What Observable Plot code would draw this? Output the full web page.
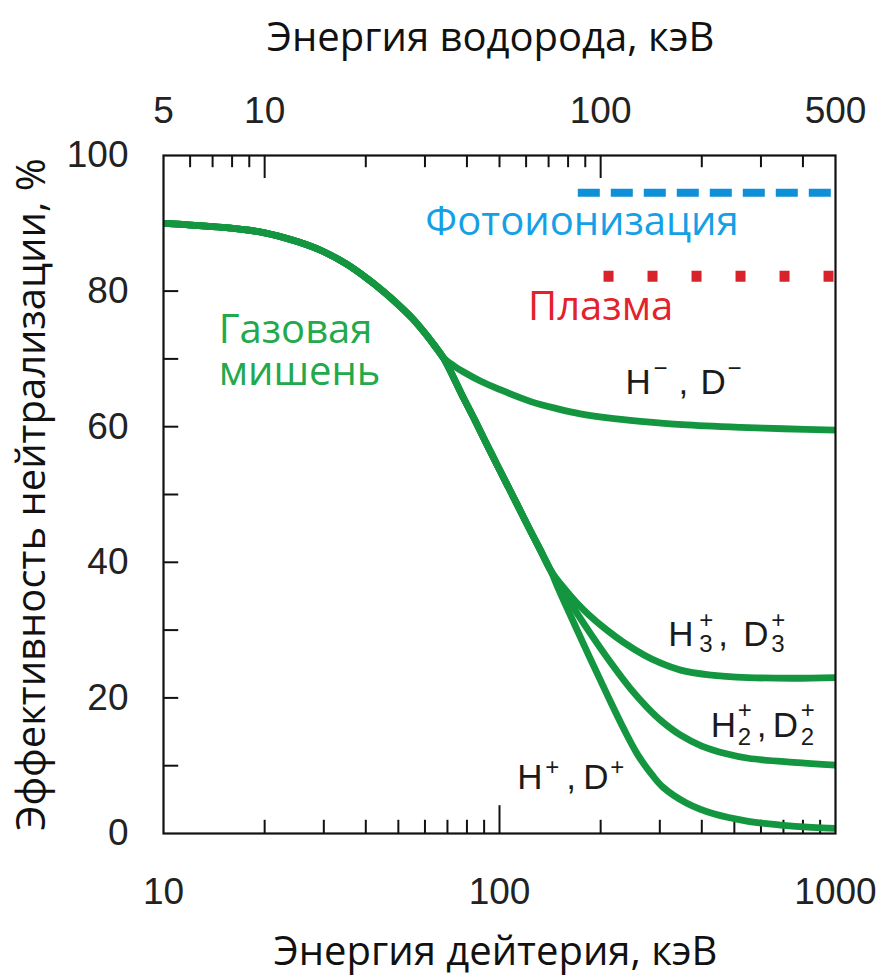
<!DOCTYPE html>
<html>
<head>
<meta charset="utf-8">
<script src="https://cdn.jsdelivr.net/npm/d3@7"></script>
<script src="https://cdn.jsdelivr.net/npm/@observablehq/plot@0.6"></script>
<style>
  html, body { margin: 0; padding: 0; background: #fff; }
</style>
</head>
<body>
<div id="chart"></div>
<script>
// Neutralisation efficiency in a gas target vs deuterium energy (keV).
// All ion species share the low-energy part of the curve, then branch off.
const commonEnergy = [10, 15, 20, 25, 30, 35, 40, 45, 50, 55, 60, 64, 68];
const commonEff    = [90.0, 89.4, 88.6, 87.3, 85.8, 84.0, 82.0, 80.0, 78.0, 76.0, 73.8, 72.0, 70.2];

// Negative ions (H-, D-)
const negEnergy = [73, 78, 88, 100, 124, 150, 174, 210, 263, 350, 522, 700, 1000];
const negEff    = [69.0, 68.1, 66.7, 65.5, 63.7, 62.6, 61.9, 61.3, 60.8, 60.3, 59.9, 59.7, 59.5];

// Positive ions share a steep section before splitting again
const posEnergy = [78, 84, 90, 99, 106, 114, 124, 132, 142];
const posEff    = [64.3, 61.2, 58.2, 54.1, 51.2, 48.1, 44.5, 41.9, 38.8];

// H3+, D3+
const tri3Energy = [155, 170, 185, 210, 234, 270, 300, 346, 420, 550, 750, 1000];
const tri3Eff    = [36.3, 34.0, 32.2, 29.9, 28.2, 26.3, 25.2, 24.1, 23.4, 23.0, 22.9, 23.0];

// H2+, D2+
const di2Energy = [155, 170, 187, 215, 245, 275, 300, 346, 400, 470, 550, 750, 1000];
const di2Eff    = [35.6, 32.5, 29.4, 25.1, 21.4, 18.6, 16.8, 14.5, 12.9, 11.8, 11.1, 10.5, 10.1];

// H+, D+
const monoEnergy = [150, 166, 187, 210, 234, 258, 285, 307, 360, 434, 550, 686, 850, 1000];
const monoEff    = [36.0, 31.2, 25.6, 20.3, 15.5, 11.6, 8.6, 6.8, 4.5, 2.9, 1.8, 1.25, 0.9, 0.75];

// Other neutraliser types: photoionisation and plasma targets
const photoEnergy = [171, 1000];
const photoEff = 94.5;
const plasmaEnergy = [204, 1000];
const plasmaEff = 82.2;

// Axis tick values
const deutTickLabels = [10, 100, 1000];
const hydrTickLabels = [5, 10, 100, 500];
const effTickLabels = [0, 20, 40, 60, 80, 100];
const deutMinor = [20, 30, 40, 50, 60, 70, 80, 90, 200, 300, 400, 500, 600, 700, 800, 900];
const deutMajor = [100];
const hydrMinor = [6, 7, 8, 9, 20, 30, 40, 50, 60, 70, 80, 90, 200, 300, 400];
const hydrMajor = [10, 100];
const effMinor = [10, 20, 30, 40, 50, 60, 70, 80, 90];

const zip = (es, vs) => es.map((e, i) => ({energy: e, eff: vs[i]}));
const branch = (name, parts) =>
  parts.flatMap(([es, vs]) => zip(es, vs)).map(d => ({...d, series: name}));

const curves = [
  ...branch("H-", [[commonEnergy, commonEff], [negEnergy, negEff]]),
  ...branch("H3+", [[commonEnergy, commonEff], [posEnergy, posEff], [tri3Energy, tri3Eff]]),
  ...branch("H2+", [[commonEnergy, commonEff], [posEnergy, posEff], [di2Energy, di2Eff]]),
  ...branch("H+", [[commonEnergy, commonEff], [posEnergy, posEff], [monoEnergy, monoEff]])
];

const sansTitle = "'Open Sans', 'Noto Sans', sans-serif";
const sansTick = "'Liberation Sans', Arial, sans-serif";
const green = "#13963f";
const labelGreen = "#22a94b";

// Ion label such as H₃⁺, D₃⁺ with stacked superscript/subscript
function ionLabel(energy, eff, sup, sub, o) {
  const base = {x: energy, y: eff, textAnchor: "start", fontFamily: sansTick, fontSize: 35, fill: "#1b1b1b"};
  const small = {...base, fontSize: 24};
  const marks = [
    Plot.text(["H"], base),
    Plot.text([sup], {...small, dx: o.s1, dy: o.up}),
    Plot.text([","], {...base, dx: o.comma}),
    Plot.text(["D"], {...base, dx: o.d}),
    Plot.text([sup], {...small, dx: o.s2, dy: o.up})
  ];
  if (sub) {
    marks.push(Plot.text([sub], {...small, dx: o.s1, dy: o.down}));
    marks.push(Plot.text([sub], {...small, dx: o.s2, dy: o.down}));
  }
  return marks;
}

const chart = Plot.plot({
  width: 889,
  height: 978,
  marginLeft: 163,
  marginRight: 54,
  marginTop: 155,
  marginBottom: 145,
  x: {type: "log", domain: [10, 1000]},
  y: {domain: [0, 100]},
  style: {background: "#fff", fontFamily: sansTick, color: "#222"},
  marks: [
    // inward tick marks
    Plot.ruleX(deutMinor, {y1: 0, y2: 1.95, stroke: "#111", strokeWidth: 2}),
    Plot.ruleX(deutMajor, {y1: 0, y2: 4.1, stroke: "#111", strokeWidth: 2}),
    Plot.ruleX(hydrMinor.map(h => h * 2), {y1: 100, y2: 98.2, stroke: "#111", strokeWidth: 2}),
    Plot.ruleX(hydrMajor.map(h => h * 2), {y1: 100, y2: 96.6, stroke: "#111", strokeWidth: 2}),
    Plot.ruleY(effMinor, {x1: 10, x2: 11.1, stroke: "#111", strokeWidth: 2}),

    // photoionisation and plasma levels
    Plot.line(photoEnergy.map(e => ({energy: e, eff: photoEff})),
      {x: "energy", y: "eff", stroke: "#0e8fd8", strokeWidth: 8, strokeDasharray: "22,11", strokeLinecap: "butt"}),
    Plot.line(plasmaEnergy.map(e => ({energy: e, eff: plasmaEff})),
      {x: "energy", y: "eff", stroke: "#d9232b", strokeWidth: 11, strokeDasharray: "10,34", strokeLinecap: "butt"}),

    // gas target curves
    Plot.line(curves, {x: "energy", y: "eff", z: "series", stroke: green, strokeWidth: 6.8,
      curve: "catmull-rom", strokeLinecap: "butt", strokeLinejoin: "round"}),

    Plot.frame({stroke: "#111", strokeWidth: 2.2}),

    // axes (labels only; ticks are drawn above)
    Plot.axisY({ticks: effTickLabels, tickSize: 0, tickPadding: 35, fontSize: 37, label: null,
      tickFormat: d => String(d), fill: "#222"}),
    Plot.axisX({anchor: "bottom", ticks: deutTickLabels, tickSize: 0, tickPadding: 44, fontSize: 37,
      label: null, tickFormat: d => String(d), fill: "#222"}),
    Plot.axisX({anchor: "top", ticks: hydrTickLabels.map(h => h * 2), tickSize: 0, tickPadding: 33,
      fontSize: 37, label: null, tickFormat: d => String(d / 2), fill: "#222"}),

    // axis titles
    Plot.text(["Энергия водорода, кэВ"], {frameAnchor: "top", dy: -133, dx: -9,
      fontFamily: sansTitle, fontSize: 40, fill: "#111"}),
    Plot.text(["Энергия дейтерия, кэВ"], {frameAnchor: "bottom", dy: 131, dx: -4,
      fontFamily: sansTitle, fontSize: 40, fill: "#111"}),
    Plot.text(["Эффективность нейтрализации, %"], {frameAnchor: "left", textAnchor: "middle",
      rotate: -90, dx: -131, fontFamily: sansTitle, fontSize: 40, fill: "#111"}),

    // annotations
    Plot.text(["Газовая"], {x: 14.6, y: 74.2, textAnchor: "start", fontFamily: sansTitle, fontSize: 40, fill: labelGreen}),
    Plot.text(["мишень"], {x: 14.6, y: 68.0, textAnchor: "start", fontFamily: sansTitle, fontSize: 40, fill: labelGreen}),
    Plot.text(["Фотоионизация"], {x: 176, y: 90.1, fontFamily: sansTitle, fontSize: 40, fill: "#15a0e6"}),
    Plot.text(["Плазма"], {x: 200, y: 77.6, fontFamily: sansTitle, fontSize: 40, fill: "#e4222b"}),

    ...ionLabel(237, 66.45, "−", null, {s1: 28, s2: 102, comma: 53, d: 75, up: -15, down: 0}),
    ...ionLabel(318, 29.35, "+", "3", {s1: 31, s2: 103, comma: 50, d: 75, up: -14, down: 10}),
    ...ionLabel(425, 15.9, "+", "2", {s1: 27, s2: 90, comma: 46, d: 62, up: -15, down: 12}),
    ...ionLabel(113, 8.19, "+", null, {s1: 28, s2: 93, comma: 49, d: 66, up: -11, down: 0})
  ]
});

document.getElementById("chart").appendChild(chart);
</script>
</body>
</html>
